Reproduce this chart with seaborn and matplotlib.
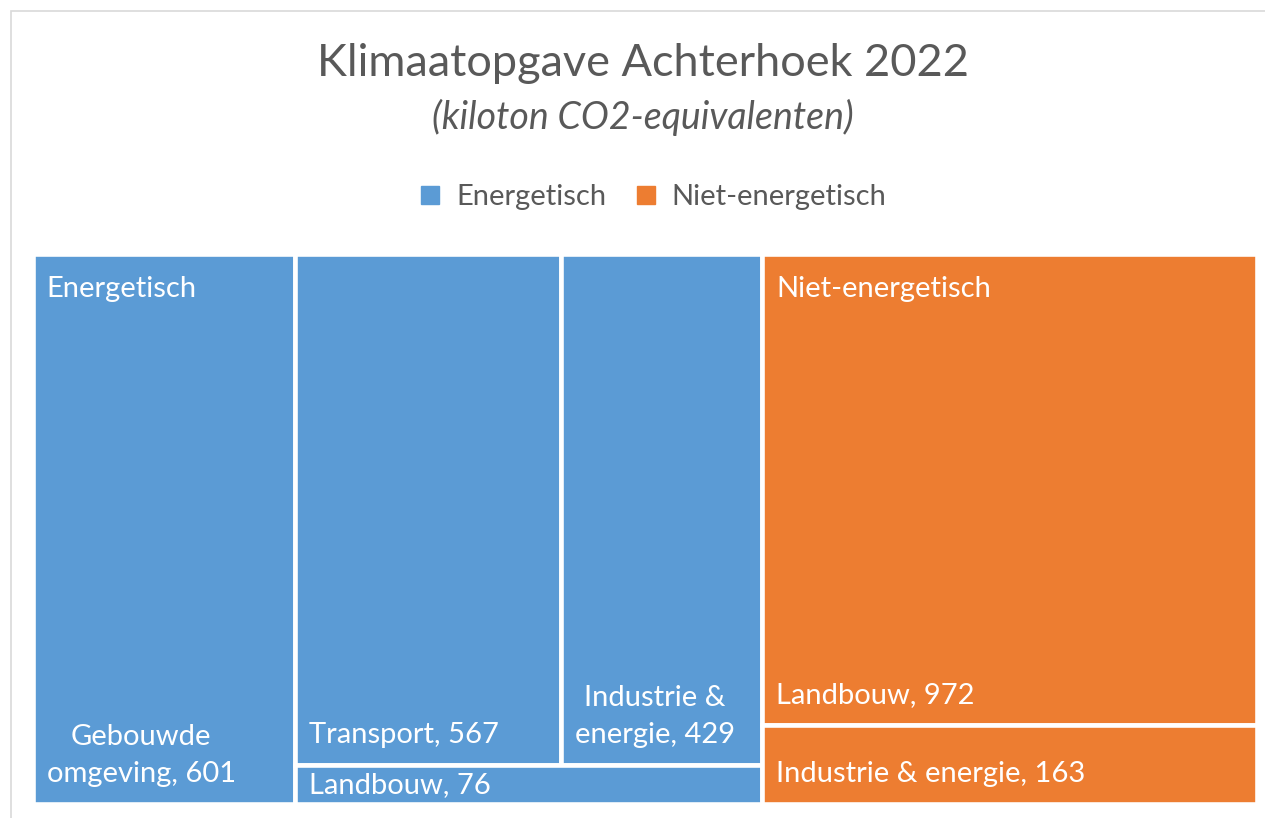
import matplotlib
matplotlib.use("Agg")
import matplotlib.pyplot as plt
from matplotlib.patches import Rectangle
from matplotlib.lines import Line2D
import seaborn as sns

# data (kiloton CO2-equivalenten)
groups = ["Energetisch", "Niet-energetisch"]
group_colors = ["#5B9BD5", "#ED7D31"]
energ_names = ["Gebouwde omgeving", "Transport", "Industrie & energie", "Landbouw"]
energ_values = [601, 567, 429, 76]
niet_names = ["Landbouw", "Industrie & energie"]
niet_values = [972, 163]

# how the tiles are nested (indices into the lists above)
# 'h' = side by side, 'v' = stacked
energ_layout = ("h", [0, ("v", [("h", [1, 2]), 3])])
niet_layout = ("v", [0, 1])

sns.set_theme(style="white")
plt.rcParams['font.family'] = ['Lato', 'DejaVu Sans']
TXT = '#595959'


def total(node, values):
    if isinstance(node, int):
        return values[node]
    return sum(total(k, values) for k in node[1])


def place(node, values, x, y, w, h, out):
    if isinstance(node, int):
        out.append((node, x, y, w, h))
        return
    d, kids = node
    tot = total(node, values)
    for k in kids:
        f = total(k, values) / tot
        if d == 'h':
            place(k, values, x, y, w * f, h, out)
            x += w * f
        else:
            place(k, values, x, y, w, h * f, out)
            y += h * f


# tile area in pixels; white edges eat half the gap on each side
GAP = 4.6
W, H = 1220 + GAP, 546 + GAP
fig = plt.figure(figsize=(12.65, 8.18), dpi=100)
ax = fig.add_axes([(35 - GAP / 2) / 1265, 1 - (802 + GAP / 2) / 818, W / 1265, H / 818])
ax.set_xlim(0, W)
ax.set_ylim(H, 0)
ax.axis('off')

# chart border (only top and left visible)
fig.add_artist(Rectangle((11 / 1265, -0.5), 2, 0.5 + 1 - 11 / 818, transform=fig.transFigure,
                         fill=False, edgecolor='#D9D9D9', lw=1.2))

CX = 643 / 1265
fig.text(CX, 1 - 64 / 818, "Klimaatopgave Achterhoek 2022", ha='center', va='center',
         fontsize=32.5, color=TXT)
fig.text(CX, 1 - 117 / 818, "(kiloton CO2-equivalenten)", ha='center', va='center',
         fontsize=27, color=TXT, style='italic')

group_sets = [(energ_names, energ_values, energ_layout), (niet_names, niet_values, niet_layout)]
group_tot = [sum(v) for _, v, _ in group_sets]
renderer = fig.canvas.get_renderer()
PAD = 14
FS = 21

gx = 0
for gi, (names, values, layout) in enumerate(group_sets):
    gw = W * group_tot[gi] / sum(group_tot)
    tiles = []
    place(layout, values, gx, 0, gw, H, tiles)
    for idx, x, y, w, h in tiles:
        ax.add_patch(Rectangle((x, y), w, h, facecolor=group_colors[gi], edgecolor='white',
                               lw=GAP * 72 / 100))
        label = f"{names[idx]}, {values[idx]}"
        t = ax.text(x + PAD, y + h - 17, label, color='white', fontsize=FS, ha='left', va='bottom',
                    multialignment='center', linespacing=1.55)
        bb = t.get_window_extent(renderer=renderer)
        if bb.width > w - 2 * PAD:
            words = names[idx].split()
            t.set_text(" ".join(words[:-1]) + "\n" + words[-1] + f", {values[idx]}")
        if h < 60:
            t.set_y(y + h / 2)
            t.set_va('center')
    ax.text(gx + PAD, 35, groups[gi], color='white', fontsize=FS, ha='left', va='center')
    gx += gw

handles = [Line2D([], [], marker='s', ls='', color=c, markersize=12.5) for c in group_colors]
fig.legend(handles, groups, loc='center', bbox_to_anchor=(651 / 1265, 1 - 197 / 818), ncol=2,
           frameon=False, fontsize=FS, labelcolor=TXT, handletextpad=0.4, columnspacing=0.85,
           handlelength=1.0)

fig.savefig("out.png", dpi=100)
